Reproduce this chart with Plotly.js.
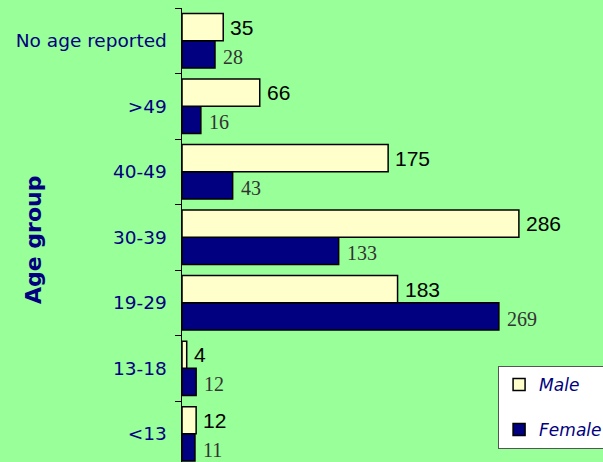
<!DOCTYPE html>
<html><head><meta charset="utf-8">
<script src="https://cdn.plot.ly/plotly-3.0.1.min.js"></script>
<style>html,body{margin:0;padding:0;background:#99FF99;}</style>
</head><body><div id="chart" style="width:603px;height:462px;"></div>
<script>
const categories = ["<13", "13-18", "19-29", "30-39", "40-49", ">49", "No age reported"];
const maleValues = [12, 4, 183, 286, 175, 66, 35];
const femaleValues = [11, 12, 269, 133, 43, 16, 28];

const female = {type:'bar', orientation:'h', name:'Female', y:categories, x:femaleValues, legendrank:2, legendgroup:'f',
  marker:{color:'#000080', line:{color:'#000000', width:1.5}}, hoverinfo:'skip'};
const male = {type:'bar', orientation:'h', name:'Male', y:categories, x:maleValues, legendrank:1, legendgroup:'m',
  marker:{color:'#FFFFCC', line:{color:'#000000', width:1.5}}, hoverinfo:'skip'};

const annotations = [];
categories.forEach((c, i) => {
  annotations.push({x:maleValues[i], y:i+0.21, xref:'x', yref:'y', text:String(maleValues[i]),
    showarrow:false, xanchor:'left', xshift:5,
    font:{family:'Liberation Sans, Arial, sans-serif', size:21, color:'#000000'}});
  annotations.push({x:femaleValues[i], y:i-0.21, xref:'x', yref:'y', text:String(femaleValues[i]),
    showarrow:false, xanchor:'left', xshift:6, yshift:-2,
    font:{family:'Liberation Serif, Times New Roman, serif', size:20, color:'#333333'}});
});
annotations.push({xref:'paper', yref:'paper', x:-0.3515, y:0.489, text:'<b>Age group</b>', textangle:-90,
  showarrow:false, xanchor:'center', yanchor:'middle',
  font:{family:'DejaVu Sans, sans-serif', size:22, color:'#000080'}});

const layout = {
  width:603, height:462,
  paper_bgcolor:'#99FF99', plot_bgcolor:'#99FF99',
  margin:{l:182, r:0, t:8, b:0, autoexpand:false},
  barmode:'group', bargap:0.17, bargroupgap:0,
  showlegend:true,
  legend:{xref:'container', yref:'container', x:0.826, y:0.208, xanchor:'left', yanchor:'top',
    traceorder:'grouped', bgcolor:'#FFFFFF', bordercolor:'#555555', borderwidth:1,
    font:{family:'DejaVu Sans, sans-serif', size:17, color:'#000080', style:'italic'},
    itemwidth:30, tracegroupgap:20, entrywidth:110},
  xaxis:{range:[0, 357.4], visible:false, showgrid:false, zeroline:false},
  yaxis:{type:'category', range:[-0.43, 6.5], autorange:false,
    showline:true, linecolor:'#000000', linewidth:1.5,
    ticks:'outside', tickson:'boundaries', ticklen:6, tickcolor:'#000000', tickwidth:1,
    ticklabelstandoff:10, showgrid:false, zeroline:false,
    tickfont:{family:'DejaVu Sans, sans-serif', size:18.5, color:'#000080'}},
  annotations: annotations
};
Plotly.newPlot('chart', [female, male], layout, {staticPlot:true, displayModeBar:false});
</script></body></html>
